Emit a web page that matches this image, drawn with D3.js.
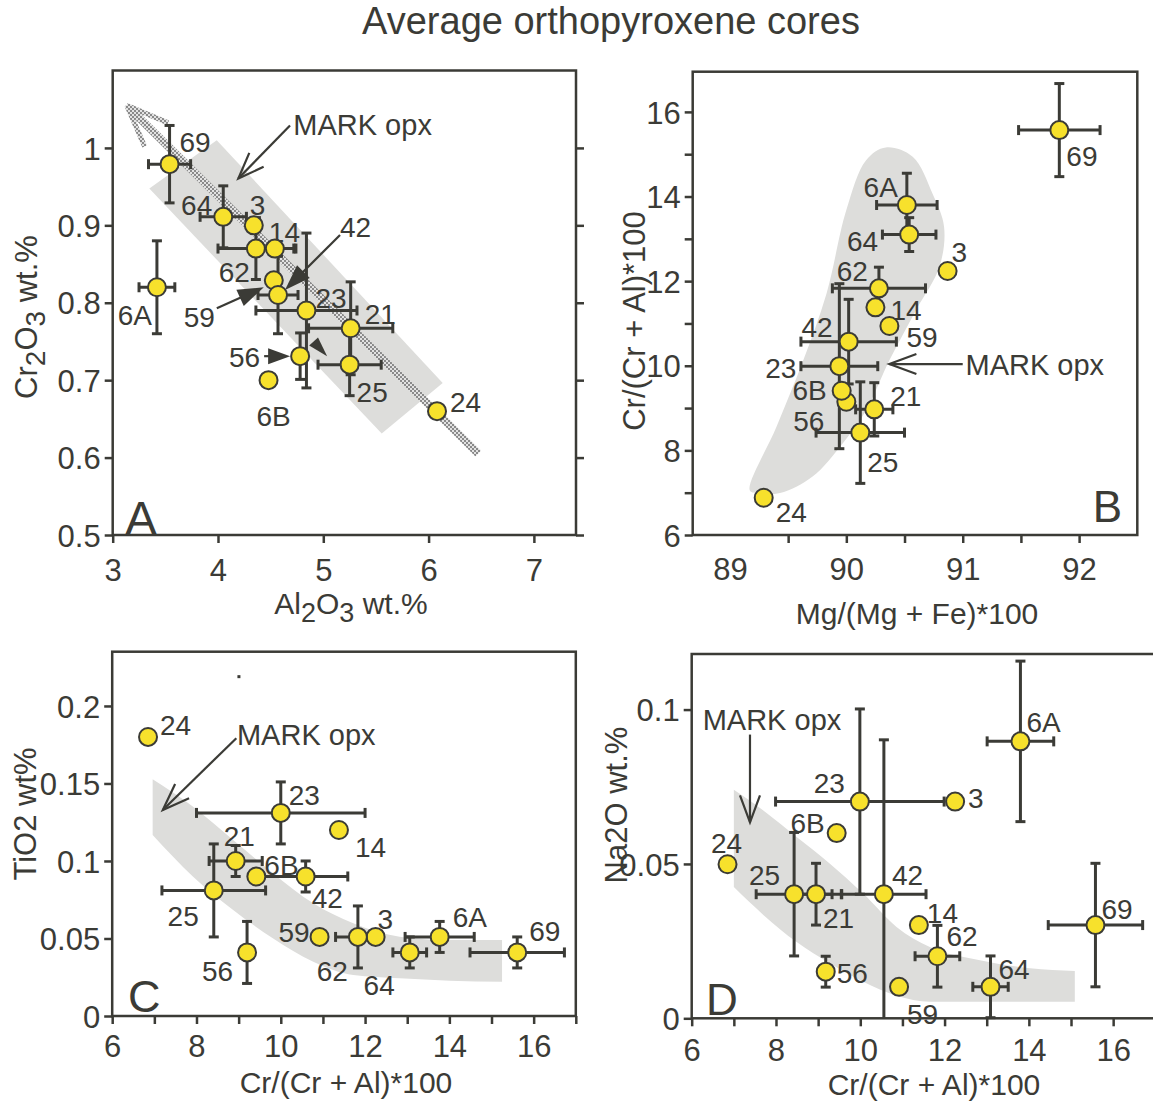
<!DOCTYPE html>
<html><head><meta charset="utf-8">
<script src="https://cdn.jsdelivr.net/npm/d3@7"></script>
<style>
body{margin:0;background:#fff}
svg text{font-family:"Liberation Sans",Arial,Helvetica,sans-serif;fill:#3b3b36}
</style>
</head><body>
<script>
// ---------------- DATA ----------------
const ids = ["69","64","3","62","14","59","42","23","21","25","56","6A","6B","24"];

// Panel A: Al2O3 (x) vs Cr2O3 (y), wt.%
const al2o3    = [3.54,4.05,4.34,4.36,4.54,4.53,4.57,4.84,5.26,5.25,4.78,3.42,4.48,6.08];
const cr2o3    = [0.979,0.911,0.900,0.870,0.870,0.829,0.810,0.790,0.767,0.720,0.731,0.820,0.700,0.660];
const al2o3Err = [0.20,0.22,null,0.36,0.20,null,0.19,0.48,0.40,0.30,null,0.17,null,null];
const cr2o3Err = [0.05,0.04,null,0.04,null,null,0.05,0.10,0.06,0.04,0.03,0.06,null,null];

// Panel B: Mg# (x) vs Cr# (y)
const mgNum     = [91.83,90.54,90.87,90.28,90.25,90.37,90.02,89.94,90.24,90.12,90.00,90.52,89.96,89.29];
const crNumB    = [15.57,13.10,12.24,11.83,11.38,10.94,10.57,9.99,8.97,8.42,9.15,13.80,9.41,6.88];
const mgNumErr  = [0.35,0.23,null,0.40,null,null,0.41,0.33,0.16,0.38,null,0.26,null,null];
const crNumBErr = [1.10,0.40,null,0.50,null,null,1.00,1.95,0.63,1.20,null,0.75,null,null];

// Panel C: Cr# (x) vs TiO2 (y)
const crNumC    = [15.61,13.06,12.25,11.83,11.38,10.92,10.59,10.00,8.93,8.41,9.20,13.77,9.42,6.85];
const tio2      = [0.041,0.041,0.051,0.051,0.120,0.051,0.090,0.131,0.100,0.081,0.041,0.051,0.090,0.180];
const crNumCErr = [1.12,0.40,null,0.53,null,null,1.00,2.00,0.63,1.23,null,0.82,null,null];
const tio2Err   = [0.01,0.01,null,0.02,null,null,0.01,0.02,0.01,0.03,0.02,0.01,null,null];

// Panel D: Cr# (x) vs Na2O (y)
const crNumD    = [15.58,13.09,12.25,11.83,11.39,10.92,10.56,9.99,8.95,8.43,9.18,13.80,9.44,6.85];
const na2o      = [0.0302,0.0102,0.0702,0.0201,0.0302,0.0102,0.0402,0.0702,0.0402,0.0402,0.0151,0.0897,0.0600,0.0499];
const crNumDErr = [1.12,0.42,null,0.53,null,null,1.00,2.00,0.60,0.90,null,0.79,null,null];
const na2oErr   = [0.02,0.01,null,0.01,null,null,0.05,0.03,0.01,0.02,0.005,0.026,null,null];

// MARK opx fields
const aBandAl = [3.348,3.988,6.134,5.555];
const aBandCr = [0.9475,1.010,0.6964,0.631];
const aTrendAl = [6.472,3.133];
const aTrendCr = [0.605,1.055];
const bBlobMg = [89.17,89.40,89.63,89.83,90.00,90.17,90.34,90.57,90.74,90.84,90.80,90.60,90.37,90.17,89.97,89.71,89.43,89.23];
const bBlobCr = [7.06,8.56,10.13,11.71,13.68,14.86,15.16,14.94,14.07,13.28,12.34,11.32,10.13,8.95,8.17,7.38,6.99,6.99];
const cBandCr    = [6.96,7.92,8.87,9.82,10.77,11.72,12.82,14.01,15.25];
const cBandUpper = [0.1527,0.135,0.1135,0.092,0.0727,0.0598,0.0512,0.049,0.049];
const cBandLower = [0.1168,0.0899,0.0684,0.050,0.035,0.0264,0.0243,0.0228,0.0221];
const dBandCr    = [7.00,7.70,8.49,9.28,10.07,10.86,11.65,12.84,14.03,15.09];
const dBandUpper = [0.074,0.0673,0.0587,0.0501,0.0404,0.0296,0.0231,0.0188,0.0162,0.0153];
const dBandLower = [0.0425,0.0335,0.0247,0.0178,0.0118,0.0073,0.0054,0.0054,0.0054,0.0054];

// Ticks
const aXTicks = [3,4,5,6,7];           const aXLabels = ["3","4","5","6","7"];
const aYTicks = [0.5,0.6,0.7,0.8,0.9,1.0]; const aYLabels = ["0.5","0.6","0.7","0.8","0.9","1"];
const bXTicks = [89,89.5,90,90.5,91,91.5,92]; const bXLabels = ["89","","90","","91","","92"];
const bYTicks = [6,7,8,9,10,11,12,13,14,15,16]; const bYLabels = ["6","","8","","10","","12","","14","","16"];
const cXTicks = [6,7,8,9,10,11,12,13,14,15,16,17]; const cXLabels = ["6","","8","","10","","12","","14","","16",""];
const cYTicks = [0,0.05,0.1,0.15,0.2]; const cYLabels = ["0","0.05","0.1","0.15","0.2"];
const dXTicks = [6,7,8,9,10,11,12,13,14,15,16]; const dXLabels = ["6","","8","","10","","12","","14","","16"];
const dYTicks = [0,0.05,0.1]; const dYLabels = ["0","0.05","0.1"];

// ---------------- LAYOUT ----------------
const INK = "#3b3b36", YELLOW = "#f7e12c", BAND = "#dddddb";
const CAP = 5;
const labelA = [[10,-12,"start"],[-11,-2,"end"],[-4,-10,"start"],[-6,33,"end"],[-6,-7,"start"],[-59,47,"end"],[62,-58,"start"],[9,-2,"start"],[14,-4,"start"],[7,37,"start"],[-40,11,"end"],[-5,38,"end"],[5,46,"middle"],[13,1,"start"]];
const labelB = [[7,36,"start"],[-31,16,"end"],[4,-9,"start"],[-11,-7,"end"],[15,13,"start"],[17,21,"start"],[-16,-5,"end"],[-43,12,"end"],[16,-3,"start"],[7,39,"start"],[-22,29,"end"],[-9,-8,"end"],[-15,9,"end"],[12,24,"start"]];
const labelC = [[12,-11,"start"],[-15,43,"end"],[2,-8,"start"],[-10,44,"end"],[16,27,"start"],[-10,5,"end"],[6,32,"start"],[8,-8,"start"],[-12,-15,"start"],[-15,36,"end"],[-14,29,"end"],[13,-10,"start"],[8,-1,"start"],[12,-2,"start"]];
const labelD = [[6,-6,"start"],[8,-8,"start"],[13,6,"start"],[9,-10,"start"],[8,-2,"start"],[8,37,"start"],[8,-9,"start"],[-15,-9,"end"],[7,34,"start"],[-14,-9,"end"],[11,11,"start"],[6,-9,"start"],[-12,0,"end"],[-1,-11,"middle"]];

const svg = d3.select("body").append("svg").attr("width",1153).attr("height",1102);
const defs = svg.append("defs");
const pat = defs.append("pattern").attr("id","chk").attr("patternUnits","userSpaceOnUse").attr("width",4).attr("height",4);
pat.append("rect").attr("width",4).attr("height",4).attr("fill","#e2e2e2");
pat.append("rect").attr("width",2).attr("height",2).attr("fill","#8a8a8a");
pat.append("rect").attr("x",2).attr("y",2).attr("width",2).attr("height",2).attr("fill","#8a8a8a");

svg.append("text").attr("x",611).attr("y",34).attr("text-anchor","middle")
  .style("font-size","38px").text("Average orthopyroxene cores");

function arrow(g, x1, y1, x2, y2, type, L, W) {
  const a = Math.atan2(y2 - y1, x2 - x1);
  const c = Math.cos(a), s = Math.sin(a);
  const bx = x2 - L * c, by = y2 - L * s;
  const w1 = [bx - W * s, by + W * c], w2 = [bx + W * s, by - W * c];
  if (type === "filled") {
    if (x1 !== null) g.append("line").attr("x1",x1).attr("y1",y1).attr("x2",bx+2*c).attr("y2",by+2*s)
      .attr("stroke",INK).attr("stroke-width",2.2);
    g.append("path").attr("d",`M${x2},${y2}L${w1[0]},${w1[1]}L${w2[0]},${w2[1]}Z`).attr("fill",INK);
  } else {
    g.append("line").attr("x1",x1).attr("y1",y1).attr("x2",x2).attr("y2",y2)
      .attr("stroke",INK).attr("stroke-width",2.2);
    g.append("path").attr("d",`M${w1[0]},${w1[1]}L${x2},${y2}L${w2[0]},${w2[1]}`)
      .attr("fill","none").attr("stroke",INK).attr("stroke-width",2.2).attr("stroke-linejoin","miter");
  }
}

function drawPanel(p) {
  const g = svg.append("g");
  const x = p.x, y = p.y;
  const [xl, xr] = x.range(), [yb, yt] = y.range();
  if (p.back) p.back(g, x, y);

  // labels (drawn beneath error bars, as in the original)
  const lg = g.append("g");

  // error bars
  const eg = g.append("g").attr("stroke",INK).attr("stroke-width",3).attr("fill","none");
  p.xv.forEach((xv, i) => {
    const yv = p.yv[i], ex = p.xe[i], ey = p.ye[i];
    const cx = x(xv), cy = y(yv);
    if (ex != null) {
      const xa = x(xv - ex), xb = x(xv + ex);
      eg.append("line").attr("x1",xa).attr("x2",xb).attr("y1",cy).attr("y2",cy);
      [xa, xb].forEach(xc => eg.append("line").attr("x1",xc).attr("x2",xc).attr("y1",cy-CAP).attr("y2",cy+CAP));
    }
    if (ey != null) {
      const lo = yv - ey, hi = yv + ey;
      const d0 = y.domain()[0];
      const ya = y(Math.max(lo, d0)), yb2 = y(hi);
      eg.append("line").attr("x1",cx).attr("x2",cx).attr("y1",ya).attr("y2",yb2);
      eg.append("line").attr("x1",cx-CAP).attr("x2",cx+CAP).attr("y1",yb2).attr("y2",yb2);
      if (lo > d0 - 1e-9) eg.append("line").attr("x1",cx-CAP).attr("x2",cx+CAP).attr("y1",ya).attr("y2",ya);
    }
  });

  // points
  g.append("g").selectAll("circle").data(p.xv).join("circle")
    .attr("cx",(d)=>x(d)).attr("cy",(d,i)=>y(p.yv[i])).attr("r",9)
    .attr("fill",YELLOW).attr("stroke",INK).attr("stroke-width",2);

  lg.selectAll("text").data(ids).join("text")
    .attr("x",(d,i)=>x(p.xv[i]) + p.lab[i][0])
    .attr("y",(d,i)=>y(p.yv[i]) + p.lab[i][1])
    .attr("text-anchor",(d,i)=>p.lab[i][2])
    .style("font-size","28px").text(d=>d);

  if (p.front) p.front(g, x, y);

  // frame
  g.append("rect").attr("x",xl).attr("y",yt).attr("width",xr-xl).attr("height",yb-yt)
    .attr("fill","none").attr("stroke",INK).attr("stroke-width",2.5);

  // axes
  const ax = g.append("g").attr("transform",`translate(0,${yb})`)
    .call(d3.axisBottom(x).tickValues(p.xTicks).tickSize(8).tickFormat((d,i)=>p.xLabels[i]));
  ax.select(".domain").remove();
  ax.selectAll("line").attr("stroke",INK).attr("stroke-width",2.5);
  ax.selectAll("text").attr("dy",null).attr("y",p.xLabDy).attr("fill",null)
    .style("font-size","31px").style("font-family",null);
  if (p.hideTick) ax.selectAll(".tick").filter(d=>p.hideTick.includes(d)).select("line").remove();

  const ay = g.append("g").attr("transform",`translate(${xl},0)`)
    .call(d3.axisLeft(y).tickValues(p.yTicks).tickSize(8).tickPadding(4).tickFormat((d,i)=>p.yLabels[i]));
  ay.select(".domain").remove();
  ay.selectAll("line").attr("stroke",INK).attr("stroke-width",2.5);
  ay.selectAll("text").attr("dy","0.36em").attr("fill",null).style("font-size","31px").style("font-family",null);

  if (p.rightTicks) {
    const ar = g.append("g").attr("transform",`translate(${xr},0)`)
      .call(d3.axisRight(y).tickValues(p.yTicks).tickSize(8).tickFormat(""));
    ar.select(".domain").remove();
    ar.selectAll("line").attr("stroke",INK).attr("stroke-width",2.5);
  }

  // axis titles
  const xt = g.append("text").attr("x",p.xTitlePos[0]).attr("y",p.xTitlePos[1])
    .attr("text-anchor","middle").style("font-size","30px");
  p.xTitle.forEach(([t, sub]) => xt.append("tspan").attr("dy", sub ? 8 : (sub === false ? -8 : 0))
    .style("font-size", sub ? "27px" : null).text(t));
  const yt2 = g.append("text").attr("transform",`translate(${p.yTitlePos[0]},${p.yTitlePos[1]}) rotate(-90)`)
    .attr("text-anchor","middle").style("font-size","31px");
  p.yTitle.forEach(([t, sub]) => yt2.append("tspan").attr("dy", sub ? 8 : (sub === false ? -8 : 0))
    .style("font-size", sub ? "28px" : null).text(t));

  // panel letter
  g.append("text").attr("x",p.letterPos[0]).attr("y",p.letterPos[1])
    .attr("text-anchor",p.letterPos[2]).style("font-size",p.letterPos[3]+"px").text(p.letter);
}

function markLabel(g, x, y, pos) {
  g.append("text").attr("x",x(pos[0])).attr("y",y(pos[1])).style("font-size","29px").text("MARK opx");
}

// Panel A
drawPanel({
  letter:"A", letterPos:[125,535,"start",48],
  x: d3.scaleLinear().domain([3,7.4]).range([112.7,576]),
  y: d3.scaleLinear().domain([0.5,1.1]).range([535,70.5]),
  xv: al2o3, yv: cr2o3, xe: al2o3Err, ye: cr2o3Err, lab: labelA,
  xTicks:aXTicks, xLabels:aXLabels, yTicks:aYTicks, yLabels:aYLabels, xLabDy:46, rightTicks:true,
  xTitle:[["Al"],["2",true],["O",false],["3",true],[" wt.%",false]], xTitlePos:[351,614],
  yTitle:[["Cr"],["2",true],["O",false],["3",true],[" wt.%",false]], yTitlePos:[37,317],
  back:(g,x,y)=>{
    g.append("path").attr("d", d3.line()(aBandAl.map((v,i)=>[x(v),y(aBandCr[i])])) + "Z").attr("fill",BAND);
    const x1=x(aTrendAl[0]), y1=y(aTrendCr[0]), x2=x(aTrendAl[1]), y2=y(aTrendCr[1]);
    g.append("line").attr("x1",x1).attr("y1",y1).attr("x2",x2+3).attr("y2",y2+3)
      .attr("stroke","url(#chk)").attr("stroke-width",8);
    const a=Math.atan2(y1-y2,x1-x2);
    [0.38,-0.38].forEach(da=>{
      g.append("line").attr("x1",x2).attr("y1",y2)
        .attr("x2",x2+45*Math.cos(a+da)).attr("y2",y2+45*Math.sin(a+da))
        .attr("stroke","url(#chk)").attr("stroke-width",5);
    });
  },
  front:(g,x,y)=>{
    markLabel(g,x,y,[4.715,1.0164]);
    arrow(g, x(4.684), y(1.029), x(4.193), y(0.9605), "open", 26, 10);
    const i42 = ids.indexOf("42"), i59 = ids.indexOf("59"), i56 = ids.indexOf("56");
    const p42=[x(al2o3[i42]),y(cr2o3[i42])], p59=[x(al2o3[i59]),y(cr2o3[i59])], p56=[x(al2o3[i56]),y(cr2o3[i56])];
    arrow(g, p42[0]+62, p42[1]-60, p42[0]+7, p42[1]-5, "filled", 26, 9);
    arrow(g, p59[0]-57, p59[1]+28, p59[0]-10, p59[1]+7, "filled", 26, 9);
    arrow(g, p56[0]-36, p56[1], p56[0]-10, p56[1], "filled", 22, 8);
    arrow(g, null, null, p56[0]+27, p56[1], "filled", 20, 6);
  }
});

// Panel B
drawPanel({
  letter:"B", letterPos:[1122,522,"end",44],
  x: d3.scaleLinear().domain([88.68,92.5]).range([692.7,1137.3]),
  y: d3.scaleLinear().domain([6,16.95]).range([535,71.7]),
  xv: mgNum, yv: crNumB, xe: mgNumErr, ye: crNumBErr, lab: labelB,
  xTicks:bXTicks, xLabels:bXLabels, yTicks:bYTicks, yLabels:bYLabels, xLabDy:45, hideTick:[89],
  xTitle:[["Mg/(Mg + Fe)*100"]], xTitlePos:[917,624],
  yTitle:[["Cr/(Cr + Al)*100"]], yTitlePos:[645,321],
  back:(g,x,y)=>{
    g.append("path").attr("d", d3.line().curve(d3.curveCatmullRomClosed.alpha(0.5))(bBlobMg.map((v,i)=>[x(v),y(bBlobCr[i])])))
      .attr("fill",BAND);
  },
  front:(g,x,y)=>{
    markLabel(g,x,y,[91.024,9.78]);
    arrow(g, x(91.0), y(10.04), x(90.37), y(10.04), "open", 27, 10);
  }
});

// Panel C
drawPanel({
  letter:"C", letterPos:[128,1012,"start",45],
  x: d3.scaleLinear().domain([6,17]).range([112.2,575.8]),
  y: d3.scaleLinear().domain([0,0.235]).range([1016,651.7]),
  xv: crNumC, yv: tio2, xe: crNumCErr, ye: tio2Err, lab: labelC,
  xTicks:cXTicks, xLabels:cXLabels, yTicks:cYTicks, yLabels:cYLabels, xLabDy:41,
  xTitle:[["Cr/(Cr + Al)*100"]], xTitlePos:[346,1093],
  yTitle:[["TiO2 wt%"]], yTitlePos:[36,814],
  back:(g,x,y)=>{
    g.append("path").attr("d", d3.area().curve(d3.curveMonotoneX)
      .x(d=>x(d)).y0((d,i)=>y(cBandLower[i])).y1((d,i)=>y(cBandUpper[i]))(cBandCr)).attr("fill",BAND);
    g.append("rect").attr("x",x(9.007)-1.5).attr("y",y(0.2189)-1.5).attr("width",3).attr("height",3).attr("fill",INK);
  },
  front:(g,x,y)=>{
    markLabel(g,x,y,[8.96,0.1748]);
    arrow(g, x(8.945), y(0.1792), x(7.20), y(0.1329), "open", 27, 10);
  }
});

// Panel D
drawPanel({
  letter:"D", letterPos:[706,1015,"start",44],
  x: d3.scaleLinear().domain([6,17]).range([691.7,1155.3]),
  y: d3.scaleLinear().domain([0,0.118]).range([1018.3,654]),
  xv: crNumD, yv: na2o, xe: crNumDErr, ye: na2oErr, lab: labelD,
  xTicks:dXTicks, xLabels:dXLabels, yTicks:dYTicks, yLabels:dYLabels, xLabDy:43,
  xTitle:[["Cr/(Cr + Al)*100"]], xTitlePos:[934,1095],
  yTitle:[["Na2O wt.%"]], yTitlePos:[627,805],
  back:(g,x,y)=>{
    g.append("path").attr("d", d3.area().curve(d3.curveMonotoneX)
      .x(d=>x(d)).y0((d,i)=>y(dBandLower[i])).y1((d,i)=>y(dBandUpper[i]))(dBandCr)).attr("fill",BAND);
  },
  front:(g,x,y)=>{
    markLabel(g,x,y,[6.26,0.0934]);
    arrow(g, x(7.383), y(0.0919), x(7.383), y(0.0635), "open", 27, 10);
  }
});
</script>
</body></html>
